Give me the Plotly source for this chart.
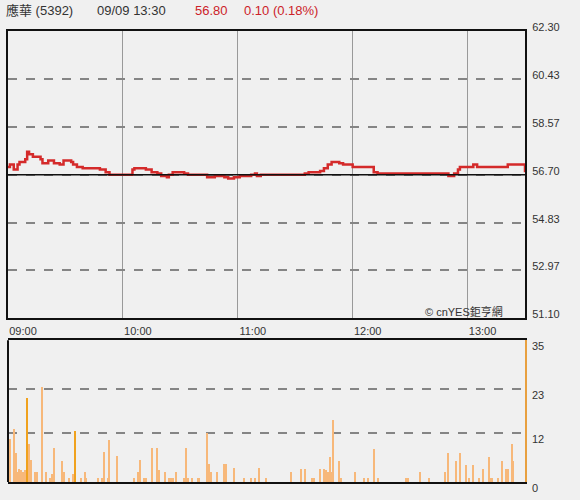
import plotly.graph_objects as go

# minutes after 09:00 where the trade price changes, and the new price
price_minutes = [0, 1, 3, 5, 6, 9, 10, 11, 13, 17, 18, 21, 24, 27, 29, 33, 34, 36, 39, 48,
                 51, 53, 65, 66, 72, 75, 78, 80, 83, 84, 86, 92, 94, 104, 108, 113, 115, 118,
                 121, 127, 129, 130, 132, 155, 157, 163, 165, 167, 169, 173, 175, 180, 191,
                 193, 230, 233, 235, 236, 243, 245, 261, 269, 270]
price_values = [57.0, 57.1, 56.9, 57.1, 57.2, 57.3, 57.6, 57.5, 57.4, 57.3, 57.15, 57.25,
                57.15, 57.1, 57.25, 57.2, 57.1, 57.0, 56.95, 56.9, 56.8, 56.7, 56.9, 56.95,
                56.9, 56.8, 56.75, 56.65, 56.6, 56.7, 56.8, 56.75, 56.7, 56.6, 56.65, 56.6,
                56.55, 56.6, 56.65, 56.7, 56.75, 56.65, 56.7, 56.75, 56.8, 56.85, 56.95,
                57.1, 57.2, 57.15, 57.1, 57.0, 56.8, 56.75, 56.65, 56.75, 56.9, 57.0, 57.1,
                57.0, 57.1, 57.1, 56.8]

# volume per minute (only minutes with trades)
vol_minutes = [0, 1, 3, 4, 5, 6, 7, 8, 9, 10, 11, 12, 14, 15, 18, 20, 22, 23, 24, 28, 29,
               32, 34, 35, 38, 40, 41, 47, 49, 50, 52, 53, 57, 66, 68, 69, 71, 72, 75, 78,
               79, 82, 84, 85, 86, 88, 92, 93, 94, 96, 99, 100, 104, 105, 106, 109, 113,
               114, 118, 123, 127, 129, 131, 135, 148, 153, 155, 159, 160, 163, 165, 166,
               167, 168, 169, 170, 173, 174, 181, 186, 188, 191, 193, 208, 209, 215, 220,
               228, 230, 234, 236, 239, 241, 243, 246, 248, 251, 252, 253, 256, 258, 260,
               261, 263, 264]
vol_values = [10.5, 10.5, 13, 7, 2.3, 3.2, 3, 2.5, 3, 20.6, 9.3, 5.4, 2.3, 2.3, 23.5, 2.3,
              1, 2, 8.4, 5.1, 2.3, 1, 2, 12.5, 1, 2.3, 1, 1, 1, 7.3, 1, 10.3, 6.4, 1, 2.3,
              5.4, 1, 1, 8.4, 8.4, 3, 2.3, 1, 1, 1, 2.3, 1, 8.4, 1, 1, 1, 1, 12.1, 4.4, 2.3,
              2.3, 4.4, 4.4, 3.3, 1, 1, 1, 3.3, 1, 2.3, 3.1, 3.1, 1, 1, 3.1, 3.1, 2.8, 2.3,
              6.2, 2.3, 15.2, 5.1, 1, 2.3, 1, 1, 8.2, 1, 1, 1, 2.3, 1, 2.3, 7.2, 5.1, 7.2,
              4.1, 1, 4.1, 1, 3.1, 6.2, 1, 1, 1, 5.1, 3.1, 3.1, 9.2, 5.1]

price_ticks = [51.10, 52.97, 54.83, 56.70, 58.57, 60.43, 62.30]
vol_ticks = [0, 12, 23, 35]
time_ticks = [0, 60, 120, 180, 240]
time_labels = ["09:00", "10:00", "11:00", "12:00", "13:00"]
prev_close = 56.70

BG = "#f0f0f0"
TXT = "#333333"
RED = "#cc2229"
FONT = "Liberation Sans, Arial, Noto Sans CJK TC"
STRONG_BARS = {10, 35}

fig = go.Figure()

fig.add_trace(go.Scatter(
    x=price_minutes, y=price_values, mode="lines", line_shape="hv",
    line=dict(color="#d42a2a", width=2.5), xaxis="x", yaxis="y", showlegend=False,
))

bar_colors = ["#f0a21e" if m in STRONG_BARS else "#f7b87a" for m in vol_minutes]
fig.add_trace(go.Bar(
    x=vol_minutes, y=vol_values, width=0.55, marker=dict(color=bar_colors, line_width=0),
    xaxis="x2", yaxis="y2", showlegend=False,
))

fig.update_layout(
    width=580, height=500,
    margin=dict(l=6, r=55, t=31, b=14),
    paper_bgcolor=BG, plot_bgcolor=BG,
    font=dict(family=FONT, size=11, color=TXT),
    bargap=0,
    xaxis=dict(
        domain=[0, 1], range=[0, 270], anchor="y",
        tickvals=time_ticks, ticktext=time_labels, ticks="", ticklabelshift=15,
        ticklabelstandoff=1,
        showgrid=True, gridcolor="#999999", gridwidth=1,
        showline=True, mirror=True, linecolor="#111111", linewidth=2,
        zeroline=False, fixedrange=True,
    ),
    yaxis=dict(
        domain=[0.3626, 1], range=[51.10, 62.30], anchor="x", side="right",
        tickvals=price_ticks, tickformat=".2f", ticks="", ticklabelshift=-4,
        ticklabelstandoff=3,
        showgrid=True, gridcolor="#858585", gridwidth=1.5, griddash="dash",
        showline=True, mirror=True, linecolor="#111111", linewidth=2,
        zeroline=False,
    ),
    xaxis2=dict(
        domain=[0, 1], range=[0, 270], anchor="y2",
        showticklabels=False, ticks="", showgrid=False,
        showline=True, mirror=True, linecolor="#111111", linewidth=2,
        zeroline=False,
    ),
    yaxis2=dict(
        domain=[0, 0.3143], range=[0, 35], anchor="x2", side="right",
        tickvals=vol_ticks, ticks="", ticklabelshift=6, ticklabelstandoff=3,
        showgrid=True, gridcolor="#858585", gridwidth=1.5, griddash="dash",
        showline=True, linecolor="#e8a040", linewidth=1.5,
        zeroline=False,
    ),
)

# previous close reference line
fig.add_shape(type="line", xref="x domain", yref="y", x0=0, x1=1, y0=prev_close, y1=prev_close,
              line=dict(color="#111111", width=1.5))
# left border of the volume panel
fig.add_shape(type="line", xref="x2 domain", yref="y2 domain", x0=0, x1=0, y0=0, y1=1,
              line=dict(color="#111111", width=2))

# header
header = [
    ("應華 (5392)", 2, TXT),
    ("09/09 13:30", 93, TXT),
    ("56.80", 192, RED),
    ("0.10 (0.18%)", 241, RED),
]
for text, px, color in header:
    fig.add_annotation(
        text=text, xref="paper", yref="paper", x=(px - 6) / 519, y=1,
        yshift=21, xanchor="left", yanchor="middle", showarrow=False,
        font=dict(size=13, color=color, family=FONT),
    )

fig.add_annotation(
    text="© cnYES鉅亨網", xref="paper", yref="paper", x=(505 - 6) / 519, y=0.3626,
    yshift=7, xanchor="right", yanchor="middle", showarrow=False,
    font=dict(size=11, color=TXT, family=FONT),
)

# the page body has a default 8px margin; drop it so the chart sits at the window origin
fig.write_html("out.html", config={"displayModeBar": False},
               post_script="document.body.style.margin='0';")
